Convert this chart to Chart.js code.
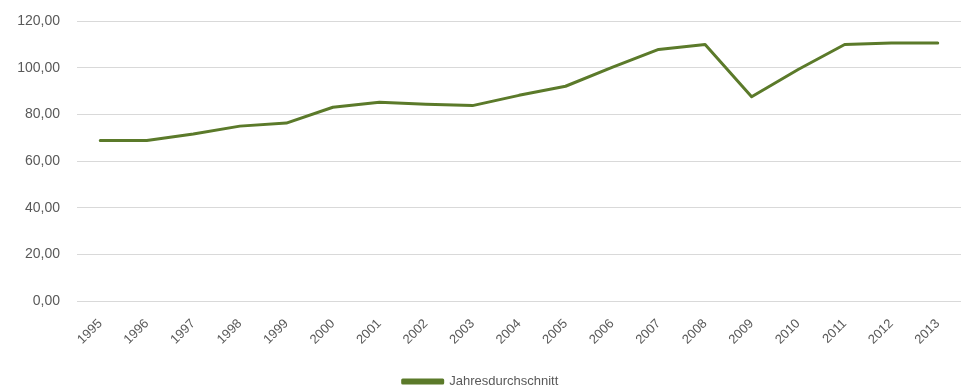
<!DOCTYPE html>
<html>
<head>
<meta charset="utf-8">
<script src="https://cdn.jsdelivr.net/npm/chart.js@4"></script>
<style>
html,body{margin:0;padding:0;background:#fff;}
#wrap{width:962px;height:389px;position:relative;}
</style>
</head>
<body>
<div id="wrap"><canvas id="c" width="962" height="389"></canvas></div>
<script>
const years = ['1995','1996','1997','1998','1999','2000','2001','2002','2003','2004','2005','2006','2007','2008','2009','2010','2011','2012','2013'];
const jahresdurchschnitt = [68.8,68.8,71.6,75.0,76.3,83.1,85.2,84.4,83.8,88.2,92.1,100.2,107.9,110.0,87.6,99.3,110.0,110.6,110.6];
const yTicks = [0,20,40,60,80,100,120];
const seriesName = 'Jahresdurchschnitt';

const fmt = v => v.toFixed(2).replace('.', ',');
const fontFamily = "'Liberation Sans', 'DejaVu Sans', sans-serif";

new Chart(document.getElementById('c'), {
  type: 'line',
  data: {
    labels: years,
    datasets: [{
      label: seriesName,
      data: jahresdurchschnitt,
      borderColor: '#5B7A2A',
      backgroundColor: '#5B7A2A',
      borderWidth: 3,
      pointRadius: 0,
      tension: 0,
      fill: false,
      borderJoinStyle: 'round',
      borderCapStyle: 'round'
    }]
  },
  options: {
    responsive: false,
    animation: false,
    devicePixelRatio: 1,
    layout: { padding: { top: 0, right: 1, left: 0, bottom: -9 } },
    scales: {
      x: {
        offset: true,
        grid: { display: false },
        border: { display: false },
        ticks: {
          color: '#595959',
          font: { family: fontFamily, size: 13 },
          maxRotation: 45, minRotation: 45,
          autoSkip: false,
          padding: 7
        },
        afterFit: s => { s.height = 70; }
      },
      y: {
        min: 0, max: 120,
        afterBuildTicks: s => { s.ticks = yTicks.map(v => ({ value: v })); },
        grid: { color: '#D9D9D9', lineWidth: 1, drawTicks: false },
        border: { display: false },
        ticks: {
          color: '#595959',
          font: { family: fontFamily, size: 14, lineHeight: 0.6 },
          padding: 17,
          callback: v => fmt(v)
        },
        afterFit: s => { s.width = 77; }
      }
    },
    plugins: {
      legend: {
        position: 'bottom',
        labels: {
          color: '#595959',
          font: { family: fontFamily, size: 13 },
          boxWidth: 40,
          boxHeight: 3,
          padding: 4
        }
      },
      tooltip: { enabled: false }
    }
  }
});
</script>
</body>
</html>
